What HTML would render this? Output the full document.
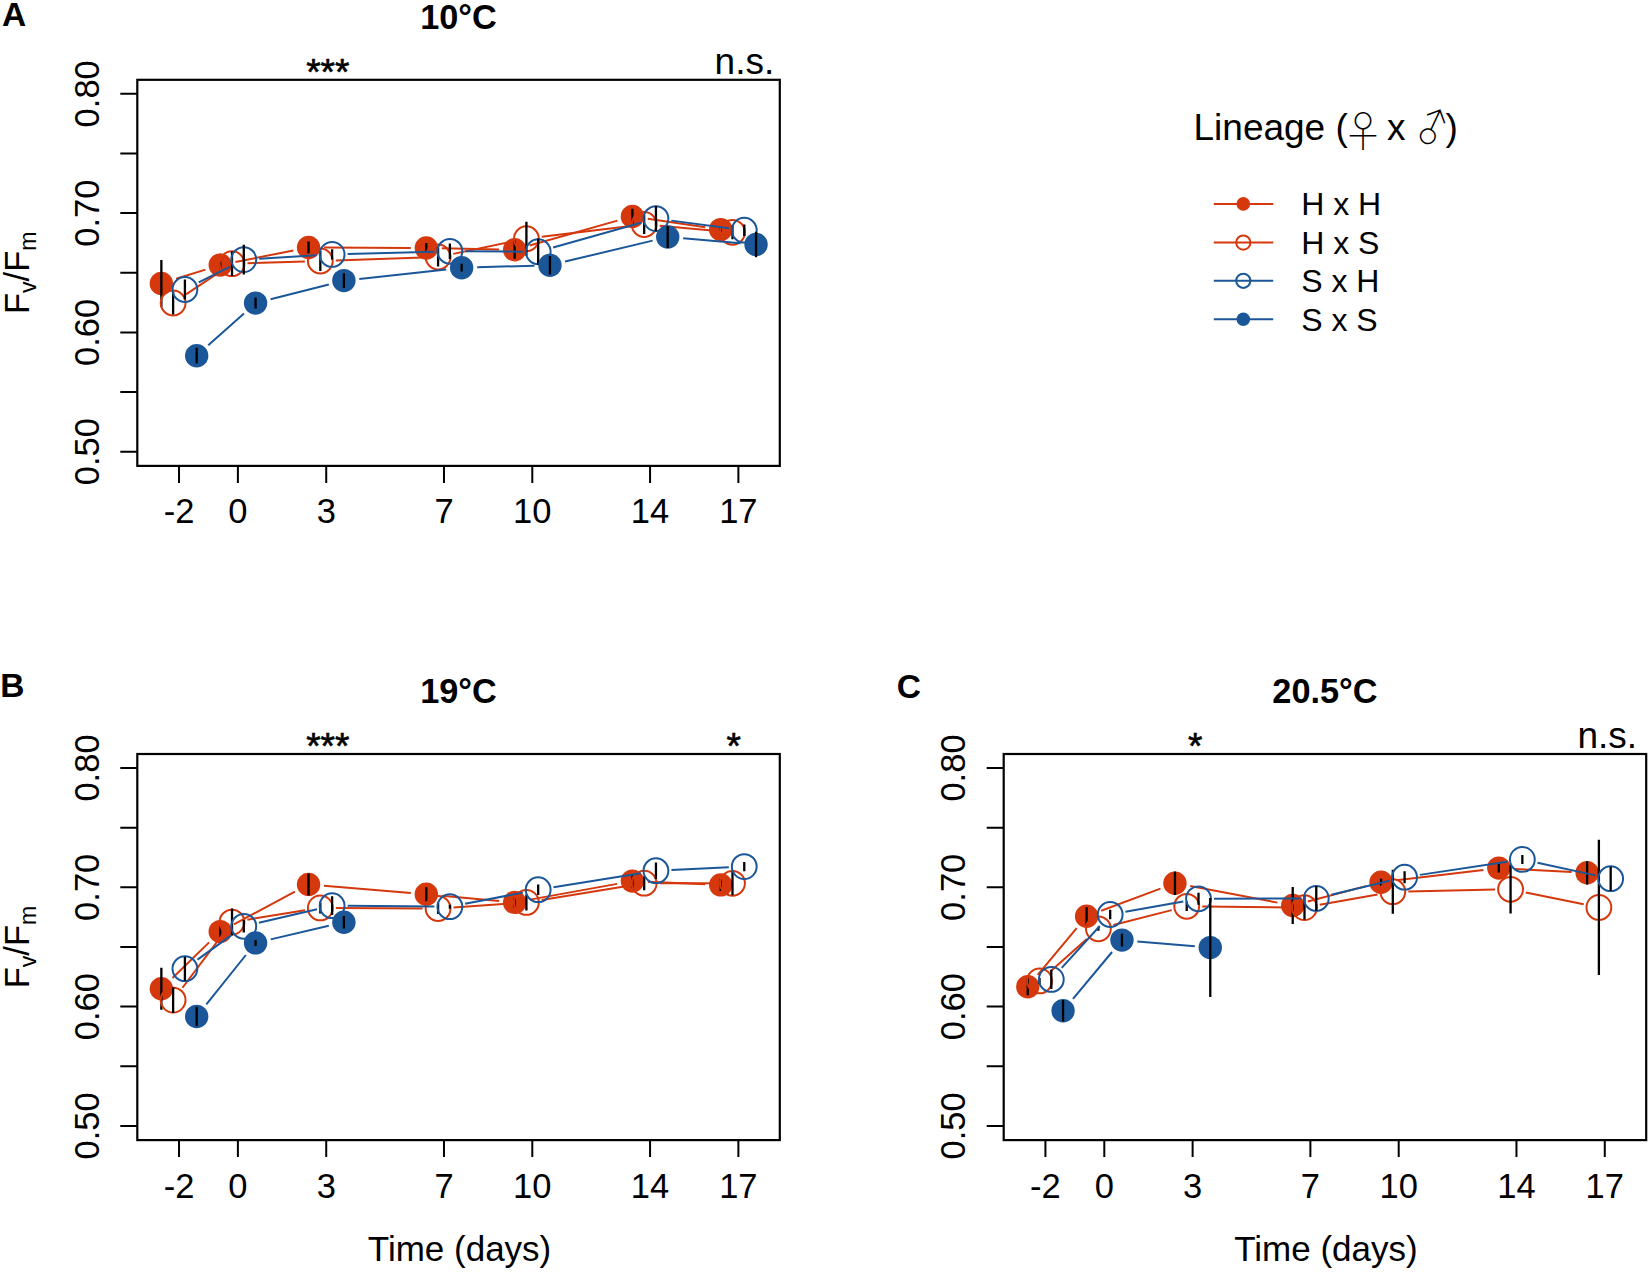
<!DOCTYPE html>
<html><head><meta charset="utf-8"><title>Fv/Fm figure</title>
<style>html,body{margin:0;padding:0;background:#fff}svg{display:block}text{font-family:"Liberation Sans", sans-serif;fill:#000}text.sym{font-family:"Noto Sans CJK JP","Noto Sans CJK SC","DejaVu Sans",sans-serif;font-weight:100}</style>
</head><body>
<svg width="1650" height="1272" viewBox="0 0 1650 1272">
<rect width="1650" height="1272" fill="#fff"/>
<path d="M176.15 278.78L205.45 269.62M235.44 261.99L293.36 250.51M324.06 247.57L410.82 247.93M441.82 248.3L499.14 249.4M529.56 245.48L617.48 220.62M647.73 218.69L705.39 227.31" stroke="#D5380C" stroke-width="2.0" fill="none"/>
<circle cx="161.36" cy="283.4" r="11.7" fill="#D5380C"/>
<circle cx="220.24" cy="265" r="11.7" fill="#D5380C"/>
<circle cx="308.56" cy="247.5" r="11.7" fill="#D5380C"/>
<circle cx="426.32" cy="248" r="11.7" fill="#D5380C"/>
<circle cx="514.64" cy="249.7" r="11.7" fill="#D5380C"/>
<circle cx="632.4" cy="216.4" r="11.7" fill="#D5380C"/>
<circle cx="720.72" cy="229.6" r="11.7" fill="#D5380C"/>
<path d="M161.36 259.9V306.9M220.24 261.5V268.5M308.56 241.5V253.5M426.32 243V253M514.64 240.7V258.7M632.4 208.8V224M720.72 227.6V231.6" stroke="#000" stroke-width="2.3" fill="none"/>
<path d="M186.02 294.4L219.12 272.3M247.5 263.23L304.84 261.47M335.82 260.47L422.6 257.53M453.27 253.86L511.23 241.84M541.8 236.84L628.78 226.36M659.61 225.86L717.05 230.94" stroke="#D5380C" stroke-width="2.0" fill="none"/>
<circle cx="173.13" cy="303" r="12.4" fill="none" stroke="#D5380C" stroke-width="2"/>
<circle cx="232.01" cy="263.7" r="12.4" fill="none" stroke="#D5380C" stroke-width="2"/>
<circle cx="320.33" cy="261" r="12.4" fill="none" stroke="#D5380C" stroke-width="2"/>
<circle cx="438.09" cy="257" r="12.4" fill="none" stroke="#D5380C" stroke-width="2"/>
<circle cx="526.41" cy="238.7" r="12.4" fill="none" stroke="#D5380C" stroke-width="2"/>
<circle cx="644.17" cy="224.5" r="12.4" fill="none" stroke="#D5380C" stroke-width="2"/>
<circle cx="732.49" cy="232.3" r="12.4" fill="none" stroke="#D5380C" stroke-width="2"/>
<path d="M173.13 291.5V314.5M232.01 251.5V275.9M320.33 251V271M438.09 247.5V266.5M526.41 221.7V255.7M644.17 215V234M732.49 225.3V239.3" stroke="#000" stroke-width="2.3" fill="none"/>
<path d="M198.73 282.48L229.97 266.62M259.26 258.69L316.64 255.31M347.6 253.99L434.38 251.71M465.37 251.37L522.69 251.63M553.11 247.51L641.03 222.79M671.32 220.62L728.9 228.18" stroke="#1B5798" stroke-width="2.0" fill="none"/>
<circle cx="184.91" cy="289.5" r="12.4" fill="none" stroke="#1B5798" stroke-width="2"/>
<circle cx="243.79" cy="259.6" r="12.4" fill="none" stroke="#1B5798" stroke-width="2"/>
<circle cx="332.11" cy="254.4" r="12.4" fill="none" stroke="#1B5798" stroke-width="2"/>
<circle cx="449.87" cy="251.3" r="12.4" fill="none" stroke="#1B5798" stroke-width="2"/>
<circle cx="538.19" cy="251.7" r="12.4" fill="none" stroke="#1B5798" stroke-width="2"/>
<circle cx="655.95" cy="218.6" r="12.4" fill="none" stroke="#1B5798" stroke-width="2"/>
<circle cx="744.27" cy="230.2" r="12.4" fill="none" stroke="#1B5798" stroke-width="2"/>
<path d="M184.91 279.5V299.5M243.79 244.7V274.5M332.11 249.2V259.6M449.87 243.6V259M538.19 238.4V265M655.95 205.9V231.3M744.27 224.5V235.9" stroke="#000" stroke-width="2.3" fill="none"/>
<path d="M208.24 345.37L244 313.43M270.58 299.27L328.86 284.43M359.29 278.91L446.23 269.39M477.13 267.26L534.47 265.64M565.03 261.59L652.65 240.61M683.16 238.31L740.6 243.19" stroke="#1B5798" stroke-width="2.0" fill="none"/>
<circle cx="196.68" cy="355.7" r="11.7" fill="#1B5798"/>
<circle cx="255.56" cy="303.1" r="11.7" fill="#1B5798"/>
<circle cx="343.88" cy="280.6" r="11.7" fill="#1B5798"/>
<circle cx="461.64" cy="267.7" r="11.7" fill="#1B5798"/>
<circle cx="549.96" cy="265.2" r="11.7" fill="#1B5798"/>
<circle cx="667.72" cy="237" r="11.7" fill="#1B5798"/>
<circle cx="756.04" cy="244.5" r="11.7" fill="#1B5798"/>
<path d="M196.68 347.8V363.6M255.56 297.6V308.6M343.88 273.2V288M461.64 263.8V271.6M549.96 256V274.4M667.72 226V248M756.04 231.8V257.2" stroke="#000" stroke-width="2.3" fill="none"/>
<rect x="137.3" y="79.8" width="642.5" height="386.1" fill="none" stroke="#000" stroke-width="2.2"/>
<path d="M137.3 93.8H120.3M137.3 153.45H120.3M137.3 213.1H120.3M137.3 272.75H120.3M137.3 332.4H120.3M137.3 392.05H120.3M137.3 451.7H120.3M179.02 465.9V482.9M237.9 465.9V482.9M326.22 465.9V482.9M443.98 465.9V482.9M532.3 465.9V482.9M650.06 465.9V482.9M738.38 465.9V482.9" stroke="#000" stroke-width="2" fill="none"/>
<text x="179.02" y="523.3" font-size="34.5" text-anchor="middle">-2</text>
<text x="237.9" y="523.3" font-size="34.5" text-anchor="middle">0</text>
<text x="326.22" y="523.3" font-size="34.5" text-anchor="middle">3</text>
<text x="443.98" y="523.3" font-size="34.5" text-anchor="middle">7</text>
<text x="532.3" y="523.3" font-size="34.5" text-anchor="middle">10</text>
<text x="650.06" y="523.3" font-size="34.5" text-anchor="middle">14</text>
<text x="738.38" y="523.3" font-size="34.5" text-anchor="middle">17</text>
<text transform="translate(98.6 93.8) rotate(-90)" font-size="34.5" text-anchor="middle">0.80</text>
<text transform="translate(98.6 213.1) rotate(-90)" font-size="34.5" text-anchor="middle">0.70</text>
<text transform="translate(98.6 332.4) rotate(-90)" font-size="34.5" text-anchor="middle">0.60</text>
<text transform="translate(98.6 451.7) rotate(-90)" font-size="34.5" text-anchor="middle">0.50</text>
<text transform="translate(28.8 272.8) rotate(-90)" font-size="34.5" text-anchor="middle">F<tspan font-size="23" dy="7">v</tspan><tspan dy="-7">/F</tspan><tspan font-size="23" dy="7">m</tspan></text>
<text x="458.55" y="28.5" font-size="34.3" font-weight="bold" text-anchor="middle">10°C</text>
<text x="327.8" y="85" font-size="37" stroke="#000" stroke-width="0.6" text-anchor="middle">***</text>
<text x="744.4" y="73.9" font-size="37" text-anchor="middle">n.s.</text>
<path d="M172.48 978L209.12 942.4M233.91 924.29L294.89 891.71M324.01 885.69L410.87 892.91M441.75 895.63L499.21 900.97M529.89 899.64L617.15 883.86M647.89 881.77L705.23 884.23" stroke="#D5380C" stroke-width="2.0" fill="none"/>
<circle cx="161.36" cy="988.8" r="11.7" fill="#D5380C"/>
<circle cx="220.24" cy="931.6" r="11.7" fill="#D5380C"/>
<circle cx="308.56" cy="884.4" r="11.7" fill="#D5380C"/>
<circle cx="426.32" cy="894.2" r="11.7" fill="#D5380C"/>
<circle cx="514.64" cy="902.4" r="11.7" fill="#D5380C"/>
<circle cx="632.4" cy="881.1" r="11.7" fill="#D5380C"/>
<circle cx="720.72" cy="884.9" r="11.7" fill="#D5380C"/>
<path d="M161.36 967.8V1009.8M220.24 925.9V937.3M308.56 873.4V895.4M426.32 887.2V901.2M514.64 897.4V907.4M632.4 874.1V888.1M720.72 878.9V890.9" stroke="#000" stroke-width="2.3" fill="none"/>
<path d="M182.47 987.73L222.67 934.47M247.31 919.64L305.03 910.36M335.83 907.98L422.59 908.42M453.55 907.43L510.95 903.47M541.71 899.91L628.87 885.69M659.67 883.22L716.99 883.28" stroke="#D5380C" stroke-width="2.0" fill="none"/>
<circle cx="173.13" cy="1000.1" r="12.4" fill="none" stroke="#D5380C" stroke-width="2"/>
<circle cx="232.01" cy="922.1" r="12.4" fill="none" stroke="#D5380C" stroke-width="2"/>
<circle cx="320.33" cy="907.9" r="12.4" fill="none" stroke="#D5380C" stroke-width="2"/>
<circle cx="438.09" cy="908.5" r="12.4" fill="none" stroke="#D5380C" stroke-width="2"/>
<circle cx="526.41" cy="902.4" r="12.4" fill="none" stroke="#D5380C" stroke-width="2"/>
<circle cx="644.17" cy="883.2" r="12.4" fill="none" stroke="#D5380C" stroke-width="2"/>
<circle cx="732.49" cy="883.3" r="12.4" fill="none" stroke="#D5380C" stroke-width="2"/>
<path d="M173.13 987.2V1013M232.01 908.6V935.6M320.33 902.4V913.4M438.09 903V914M526.41 894.4V910.4M644.17 876.2V890.2M732.49 871.3V895.3" stroke="#000" stroke-width="2.3" fill="none"/>
<path d="M197.49 959.64L231.21 935.36M258.88 922.78L317.02 909.22M347.61 905.83L434.37 906.57M465.09 903.77L522.97 892.63M553.49 887.23L640.65 873.17M671.43 869.98L728.79 867.32" stroke="#1B5798" stroke-width="2.0" fill="none"/>
<circle cx="184.91" cy="968.7" r="12.4" fill="none" stroke="#1B5798" stroke-width="2"/>
<circle cx="243.79" cy="926.3" r="12.4" fill="none" stroke="#1B5798" stroke-width="2"/>
<circle cx="332.11" cy="905.7" r="12.4" fill="none" stroke="#1B5798" stroke-width="2"/>
<circle cx="449.87" cy="906.7" r="12.4" fill="none" stroke="#1B5798" stroke-width="2"/>
<circle cx="538.19" cy="889.7" r="12.4" fill="none" stroke="#1B5798" stroke-width="2"/>
<circle cx="655.95" cy="870.7" r="12.4" fill="none" stroke="#1B5798" stroke-width="2"/>
<circle cx="744.27" cy="866.6" r="12.4" fill="none" stroke="#1B5798" stroke-width="2"/>
<path d="M184.91 956.7V980.7M243.79 920V932.6M332.11 896.3V915.1M449.87 904.7V908.7M538.19 884.5V894.9M655.95 862.5V878.9M744.27 862V871.2" stroke="#000" stroke-width="2.3" fill="none"/>
<path d="M206.36 1004.4L245.88 955M270.65 939.38L328.79 925.82" stroke="#1B5798" stroke-width="2.0" fill="none"/>
<circle cx="196.68" cy="1016.5" r="11.7" fill="#1B5798"/>
<circle cx="255.56" cy="942.9" r="11.7" fill="#1B5798"/>
<circle cx="343.88" cy="922.3" r="11.7" fill="#1B5798"/>
<path d="M196.68 1006.8V1026.2M255.56 939.9V945.9M343.88 916V928.6" stroke="#000" stroke-width="2.3" fill="none"/>
<rect x="137.3" y="754" width="642.5" height="386.1" fill="none" stroke="#000" stroke-width="2.2"/>
<path d="M137.3 768H120.3M137.3 827.65H120.3M137.3 887.3H120.3M137.3 946.95H120.3M137.3 1006.6H120.3M137.3 1066.25H120.3M137.3 1125.9H120.3M179.02 1140.1V1157.1M237.9 1140.1V1157.1M326.22 1140.1V1157.1M443.98 1140.1V1157.1M532.3 1140.1V1157.1M650.06 1140.1V1157.1M738.38 1140.1V1157.1" stroke="#000" stroke-width="2" fill="none"/>
<text x="179.02" y="1197.5" font-size="34.5" text-anchor="middle">-2</text>
<text x="237.9" y="1197.5" font-size="34.5" text-anchor="middle">0</text>
<text x="326.22" y="1197.5" font-size="34.5" text-anchor="middle">3</text>
<text x="443.98" y="1197.5" font-size="34.5" text-anchor="middle">7</text>
<text x="532.3" y="1197.5" font-size="34.5" text-anchor="middle">10</text>
<text x="650.06" y="1197.5" font-size="34.5" text-anchor="middle">14</text>
<text x="738.38" y="1197.5" font-size="34.5" text-anchor="middle">17</text>
<text transform="translate(98.6 768) rotate(-90)" font-size="34.5" text-anchor="middle">0.80</text>
<text transform="translate(98.6 887.3) rotate(-90)" font-size="34.5" text-anchor="middle">0.70</text>
<text transform="translate(98.6 1006.6) rotate(-90)" font-size="34.5" text-anchor="middle">0.60</text>
<text transform="translate(98.6 1125.9) rotate(-90)" font-size="34.5" text-anchor="middle">0.50</text>
<text transform="translate(28.8 947) rotate(-90)" font-size="34.5" text-anchor="middle">F<tspan font-size="23" dy="7">v</tspan><tspan dy="-7">/F</tspan><tspan font-size="23" dy="7">m</tspan></text>
<text x="458.55" y="702.7" font-size="34.3" font-weight="bold" text-anchor="middle">19°C</text>
<text x="459.55" y="1261.3" font-size="35" text-anchor="middle">Time (days)</text>
<text x="327.8" y="759.2" font-size="37" stroke="#000" stroke-width="0.6" text-anchor="middle">***</text>
<text x="733.6" y="759.2" font-size="37" stroke="#000" stroke-width="0.6" text-anchor="middle">*</text>
<path d="M1037.7 974.8L1076.7 928.1M1101.16 910.77L1160.44 888.63M1190.19 886.08L1277.49 902.62M1307.71 901.55L1366.05 886.15M1396.43 880.36L1483.41 869.94M1514.28 868.92L1571.64 871.98" stroke="#D5380C" stroke-width="2.0" fill="none"/>
<circle cx="1027.76" cy="986.7" r="11.7" fill="#D5380C"/>
<circle cx="1086.64" cy="916.2" r="11.7" fill="#D5380C"/>
<circle cx="1174.96" cy="883.2" r="11.7" fill="#D5380C"/>
<circle cx="1292.72" cy="905.5" r="11.7" fill="#D5380C"/>
<circle cx="1381.04" cy="882.2" r="11.7" fill="#D5380C"/>
<circle cx="1498.8" cy="868.1" r="11.7" fill="#D5380C"/>
<circle cx="1587.12" cy="872.8" r="11.7" fill="#D5380C"/>
<path d="M1027.76 978.2V995.2M1086.64 907.2V925.2M1174.96 871.5V894.9M1292.72 887.1V923.9M1381.04 878.7V885.7M1498.8 863.8V872.4M1587.12 861.2V884.4" stroke="#000" stroke-width="2.3" fill="none"/>
<path d="M1051.14 970.63L1086.8 939.07M1113.43 924.97L1171.71 910.13M1202.23 906.47L1288.99 907.43M1319.74 904.85L1377.56 894.45M1408.31 891.38L1495.07 889.62M1525.75 892.41L1583.71 904.29" stroke="#D5380C" stroke-width="2.0" fill="none"/>
<circle cx="1039.53" cy="980.9" r="12.4" fill="none" stroke="#D5380C" stroke-width="2"/>
<circle cx="1098.41" cy="928.8" r="12.4" fill="none" stroke="#D5380C" stroke-width="2"/>
<circle cx="1186.73" cy="906.3" r="12.4" fill="none" stroke="#D5380C" stroke-width="2"/>
<circle cx="1304.49" cy="907.6" r="12.4" fill="none" stroke="#D5380C" stroke-width="2"/>
<circle cx="1392.81" cy="891.7" r="12.4" fill="none" stroke="#D5380C" stroke-width="2"/>
<circle cx="1510.57" cy="889.3" r="12.4" fill="none" stroke="#D5380C" stroke-width="2"/>
<circle cx="1598.89" cy="907.4" r="12.4" fill="none" stroke="#D5380C" stroke-width="2"/>
<path d="M1039.53 977.9V983.9M1098.41 926.8V930.8M1186.73 901.6V911M1304.49 895.6V919.6M1392.81 869.7V913.7M1510.57 865V913.6M1598.89 839.8V975" stroke="#000" stroke-width="2.3" fill="none"/>
<path d="M1061.72 967.92L1099.78 925.98M1125.45 911.79L1183.25 901.51M1214.01 898.75L1300.77 898.45M1331.34 894.78L1389.52 880.82M1419.92 874.88L1507.02 861.72M1537.49 862.71L1595.53 875.39" stroke="#1B5798" stroke-width="2.0" fill="none"/>
<circle cx="1051.31" cy="979.4" r="12.4" fill="none" stroke="#1B5798" stroke-width="2"/>
<circle cx="1110.19" cy="914.5" r="12.4" fill="none" stroke="#1B5798" stroke-width="2"/>
<circle cx="1198.51" cy="898.8" r="12.4" fill="none" stroke="#1B5798" stroke-width="2"/>
<circle cx="1316.27" cy="898.4" r="12.4" fill="none" stroke="#1B5798" stroke-width="2"/>
<circle cx="1404.59" cy="877.2" r="12.4" fill="none" stroke="#1B5798" stroke-width="2"/>
<circle cx="1522.35" cy="859.4" r="12.4" fill="none" stroke="#1B5798" stroke-width="2"/>
<circle cx="1610.67" cy="878.7" r="12.4" fill="none" stroke="#1B5798" stroke-width="2"/>
<path d="M1051.31 969.7V989.1M1110.19 909.7V919.3M1198.51 892.8V904.8M1316.27 886V910.8M1404.59 871.2V883.2M1522.35 854.9V863.9M1610.67 866.7V890.7" stroke="#000" stroke-width="2.3" fill="none"/>
<path d="M1073 998.89L1112.04 952.01M1137.4 941.41L1194.84 946.29" stroke="#1B5798" stroke-width="2.0" fill="none"/>
<circle cx="1063.08" cy="1010.8" r="11.7" fill="#1B5798"/>
<circle cx="1121.96" cy="940.1" r="11.7" fill="#1B5798"/>
<circle cx="1210.28" cy="947.6" r="11.7" fill="#1B5798"/>
<path d="M1063.08 1000.1V1021.5M1121.96 933.8V946.4M1210.28 898.1V997.1" stroke="#000" stroke-width="2.3" fill="none"/>
<rect x="1003.7" y="754" width="642.5" height="386.1" fill="none" stroke="#000" stroke-width="2.2"/>
<path d="M1003.7 768H986.7M1003.7 827.65H986.7M1003.7 887.3H986.7M1003.7 946.95H986.7M1003.7 1006.6H986.7M1003.7 1066.25H986.7M1003.7 1125.9H986.7M1045.42 1140.1V1157.1M1104.3 1140.1V1157.1M1192.62 1140.1V1157.1M1310.38 1140.1V1157.1M1398.7 1140.1V1157.1M1516.46 1140.1V1157.1M1604.78 1140.1V1157.1" stroke="#000" stroke-width="2" fill="none"/>
<text x="1045.42" y="1197.5" font-size="34.5" text-anchor="middle">-2</text>
<text x="1104.3" y="1197.5" font-size="34.5" text-anchor="middle">0</text>
<text x="1192.62" y="1197.5" font-size="34.5" text-anchor="middle">3</text>
<text x="1310.38" y="1197.5" font-size="34.5" text-anchor="middle">7</text>
<text x="1398.7" y="1197.5" font-size="34.5" text-anchor="middle">10</text>
<text x="1516.46" y="1197.5" font-size="34.5" text-anchor="middle">14</text>
<text x="1604.78" y="1197.5" font-size="34.5" text-anchor="middle">17</text>
<text transform="translate(965 768) rotate(-90)" font-size="34.5" text-anchor="middle">0.80</text>
<text transform="translate(965 887.3) rotate(-90)" font-size="34.5" text-anchor="middle">0.70</text>
<text transform="translate(965 1006.6) rotate(-90)" font-size="34.5" text-anchor="middle">0.60</text>
<text transform="translate(965 1125.9) rotate(-90)" font-size="34.5" text-anchor="middle">0.50</text>
<text x="1324.95" y="702.7" font-size="34.3" font-weight="bold" text-anchor="middle">20.5°C</text>
<text x="1325.95" y="1261.3" font-size="35" text-anchor="middle">Time (days)</text>
<text x="1195.3" y="759.2" font-size="37" stroke="#000" stroke-width="0.6" text-anchor="middle">*</text>
<text x="1607.3" y="748.1" font-size="37" text-anchor="middle">n.s.</text>
<text x="2" y="26.4" font-size="33.5" font-weight="bold">A</text>
<text x="0.3" y="696.9" font-size="33.5" font-weight="bold">B</text>
<text x="896.7" y="697.6" font-size="33.5" font-weight="bold">C</text>
<text x="1193.5" y="140" font-size="37">Lineage (</text>
<text x="1387" y="140" font-size="37">x</text>
<text x="1445.5" y="140" font-size="37">)</text>
<text x="1341.9" y="147" font-size="42" class="sym">♀</text>
<text transform="translate(1427.6 137) rotate(-20) translate(-12.32 7.6)" font-size="40" class="sym">♂</text>
<path d="M1213.8 203.9H1273.2" stroke="#D5380C" stroke-width="2"/>
<circle cx="1243.3" cy="203.9" r="6.8" fill="#D5380C"/>
<text x="1301.2" y="215.2" font-size="32">H x H</text>
<path d="M1213.8 242.6H1273.2" stroke="#D5380C" stroke-width="2"/>
<circle cx="1243.3" cy="242.6" r="7.1" fill="none" stroke="#D5380C" stroke-width="2"/>
<text x="1301.2" y="253.9" font-size="32">H x S</text>
<path d="M1213.8 280.8H1273.2" stroke="#1B5798" stroke-width="2"/>
<circle cx="1243.3" cy="280.8" r="7.1" fill="none" stroke="#1B5798" stroke-width="2"/>
<text x="1301.2" y="292.1" font-size="32">S x H</text>
<path d="M1213.8 319.3H1273.2" stroke="#1B5798" stroke-width="2"/>
<circle cx="1243.3" cy="319.3" r="6.8" fill="#1B5798"/>
<text x="1301.2" y="330.6" font-size="32">S x S</text>
</svg>
</body></html>
